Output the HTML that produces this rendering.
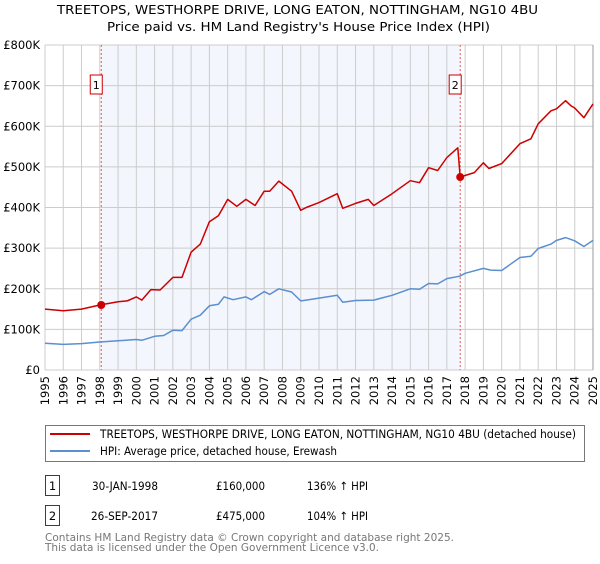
<!DOCTYPE html>
<html><head><meta charset="utf-8"><style>
body{margin:0;background:#fff;font-family:"DejaVu Sans","Liberation Sans",sans-serif;}
svg text{font-family:"DejaVu Sans","Liberation Sans",sans-serif;}
</style></head><body>
<svg id="c" width="600" height="560" xmlns="http://www.w3.org/2000/svg">
<text x="57" y="14" font-size="12.5" textLength="481" lengthAdjust="spacingAndGlyphs">TREETOPS, WESTHORPE DRIVE, LONG EATON, NOTTINGHAM, NG10 4BU</text>
<text x="107" y="31" font-size="12.5" textLength="383" lengthAdjust="spacingAndGlyphs">Price paid vs. HM Land Registry's House Price Index (HPI)</text>
<g id="plot"></g>
<rect x="45.5" y="425.5" width="539" height="36" fill="none" stroke="#777"/>
<line x1="50" y1="434" x2="90" y2="434" stroke="#cc0000" stroke-width="2"/>
<text x="100" y="438" font-size="11.5" textLength="476" lengthAdjust="spacingAndGlyphs">TREETOPS, WESTHORPE DRIVE, LONG EATON, NOTTINGHAM, NG10 4BU (detached house)</text>
<line x1="50" y1="451" x2="90" y2="451" stroke="#5b8fd0" stroke-width="2"/>
<text x="100" y="455" font-size="11.5" textLength="237" lengthAdjust="spacingAndGlyphs">HPI: Average price, detached house, Erewash</text>
<g>
<rect x="45.5" y="475.5" width="14" height="20" fill="none" stroke="#cc0000"/>
<text x="52.5" y="490" font-size="11.5" text-anchor="middle">1</text>
<text x="92" y="490" font-size="11.5" textLength="66" lengthAdjust="spacingAndGlyphs">30-JAN-1998</text>
<text x="216" y="490" font-size="11.5" textLength="49" lengthAdjust="spacingAndGlyphs">£160,000</text>
<text x="307" y="490" font-size="11.5" textLength="61" lengthAdjust="spacingAndGlyphs">136% ↑ HPI</text>
</g>
<g>
<rect x="45.5" y="505.5" width="14" height="20" fill="none" stroke="#cc0000"/>
<text x="52.5" y="520" font-size="11.5" text-anchor="middle">2</text>
<text x="91" y="520" font-size="11.5" textLength="67" lengthAdjust="spacingAndGlyphs">26-SEP-2017</text>
<text x="216" y="520" font-size="11.5" textLength="49" lengthAdjust="spacingAndGlyphs">£475,000</text>
<text x="307" y="520" font-size="11.5" textLength="61" lengthAdjust="spacingAndGlyphs">104% ↑ HPI</text>
</g>
<text x="45" y="541" font-size="11" fill="#777" textLength="409" lengthAdjust="spacingAndGlyphs">Contains HM Land Registry data © Crown copyright and database right 2025.</text>
<text x="45" y="551" font-size="11" fill="#777" textLength="334" lengthAdjust="spacingAndGlyphs">This data is licensed under the Open Government Licence v3.0.</text>
</svg>
<script>
const yearTicks=[1995,1996,1997,1998,1999,2000,2001,2002,2003,2004,2005,2006,2007,2008,2009,2010,2011,2012,2013,2014,2015,2016,2017,2018,2019,2020,2021,2022,2023,2024,2025];
const priceTicks=[0,100000,200000,300000,400000,500000,600000,700000,800000];
const priceTickLabels=["£0","£100K","£200K","£300K","£400K","£500K","£600K","£700K","£800K"];
const hpiYears=[1995,1996,1997,1998,1999,2000,2000.3,2001,2001.5,2002,2002.5,2003,2003.5,2004,2004.5,2004.8,2005.3,2006,2006.3,2007,2007.3,2007.8,2008.5,2009,2009.3,2010,2011,2011.3,2012,2013,2014,2015,2015.5,2016,2016.5,2017,2017.7,2018,2019,2019.4,2020,2021,2021.6,2022,2022.7,2023,2023.5,2024,2024.5,2025];
const hpiValues=[66000,63000,65000,69000,72000,75000,73000,83000,85000,98000,97000,125000,135000,158000,162000,180000,173000,180000,173000,193000,186000,200000,192000,170000,172000,177000,184000,167000,171000,172000,184000,200000,199000,213000,212000,225000,231000,238000,250000,246000,245000,277000,280000,299000,310000,319000,326000,318000,304000,319000];
const propYears=[1995,1996,1997,1998,1999,1999.5,2000,2000.3,2000.8,2001.3,2002,2002.5,2003,2003.5,2004,2004.5,2005,2005.5,2006,2006.5,2007,2007.3,2007.8,2008.5,2009,2009.3,2010,2011,2011.3,2012,2012.7,2013,2014,2015,2015.5,2016,2016.5,2017,2017.6,2017.73,2018.5,2019,2019.3,2020,2021,2021.6,2022,2022.7,2023,2023.5,2023.8,2024,2024.5,2025];
const propValues=[150000,146000,150000,160000,168000,170000,180000,172000,198000,197000,228000,228000,290000,310000,365000,380000,420000,403000,420000,405000,440000,440000,465000,440000,393000,400000,412000,434000,398000,410000,420000,405000,434000,466000,461000,498000,491000,523000,547000,475000,486000,510000,496000,508000,557000,569000,606000,638000,643000,663000,650000,645000,621000,655000];
const saleYears=[1998.08,2017.73];
const saleValues=[160000,475000];
const saleLabels=["1","2"];

const L=45,R=593,T=45,B=370,Y0=1995,Y1=2025,VMAX=800000;
const xs=y=>L+(y-Y0)/(Y1-Y0)*(R-L);
const ys=v=>B-v/VMAX*(B-T);
const NS="http://www.w3.org/2000/svg";
const g=document.getElementById('plot');
function mk(t,a){const e=document.createElementNS(NS,t);for(const k in a)e.setAttribute(k,a[k]);g.appendChild(e);return e;}
let e=mk('rect',{x:xs(saleYears[0]),y:T,width:xs(saleYears[1])-xs(saleYears[0]),height:B-T,fill:'#f3f6fd'});


yearTicks.forEach(y=>{
 const l=mk('line',{x1:xs(y),x2:xs(y),y1:T,y2:B,stroke:'#ccc','stroke-width':1});
 
 
 const t=mk('text',{x:0,y:0,'font-size':11.5,'text-anchor':'end',transform:`translate(${xs(y)+4},${B+6}) rotate(-90)`});
 t.textContent=y;
 
 
});
priceTicks.forEach((v,i)=>{
 const l=mk('line',{x1:L,x2:R,y1:ys(v),y2:ys(v),stroke:'#ccc','stroke-width':1});
 
 
 const t=mk('text',{x:L-5,y:ys(v)+4,'font-size':11.5,'text-anchor':'end'});
 t.textContent=priceTickLabels[i];
 
 
});
e=mk('line',{x1:R,x2:R,y1:T,y2:B,stroke:'#999'});


saleYears.forEach((y,i)=>{
 const l=mk('line',{x1:xs(y),x2:xs(y),y1:T,y2:B,stroke:'#e55','stroke-dasharray':'2,2','stroke-width':1});
 
 
});
function path(xa,va,col,name){
 const p=mk('path',{d:xa.map((y,i)=>(i?'L':'M')+xs(y).toFixed(1)+','+ys(va[i]).toFixed(1)).join(''),fill:'none',stroke:col,'stroke-width':1.5,'stroke-linejoin':'round'});
 
 
}
path(hpiYears,hpiValues,'#5b8fd0','hpi-line');
path(propYears,propValues,'#cc0000','property-line');
saleYears.forEach((y,i)=>{
 const c=mk('circle',{cx:xs(y),cy:ys(saleValues[i]),r:4,fill:'#cc0000'});
 
 
 const r=mk('rect',{x:xs(y)-11,y:75,width:12,height:19,fill:'#fff',stroke:'#cc0000'});
 
 
 const t=mk('text',{x:xs(y)-5,y:89,'font-size':11,'text-anchor':'middle'});
 t.textContent=saleLabels[i];
 
 
});
</script>
</body></html>
